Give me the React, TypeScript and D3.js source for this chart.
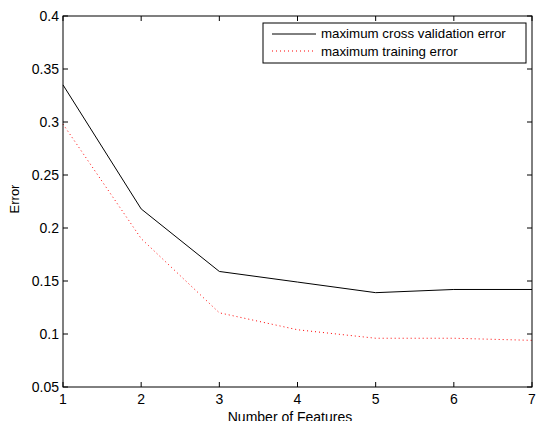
import React from "react";
import * as d3 from "d3";

const features = [1, 2, 3, 4, 5, 6, 7];
const crossValError = [0.335, 0.218, 0.159, 0.149, 0.139, 0.142, 0.142];
const trainingError = [0.298, 0.19, 0.12, 0.104, 0.096, 0.096, 0.094];
const xTicks = [1, 2, 3, 4, 5, 6, 7];
const yTicks = [0.05, 0.1, 0.15, 0.2, 0.25, 0.3, 0.35, 0.4];
const seriesNames = ["maximum cross validation error", "maximum training error"];

export default function App() {
  const W = 540, H = 421;
  const L = 63, R = 532, T = 16, B = 387;
  const x = d3.scaleLinear().domain([1, 7]).range([L, R]);
  const y = d3.scaleLinear().domain([0.05, 0.4]).range([B, T]);
  const line = d3.line<number>().x((_, i) => x(features[i])).y((d) => y(d));
  const font = "'Liberation Sans', Arial, Helvetica, sans-serif";
  const tk = 5;
  return (
    <svg width={W} height={H} style={{ position: "absolute", left: 0, top: 0, background: "#fff" }} fontFamily={font}>
      <rect x={0} y={0} width={W} height={H} fill="#fff" />
      <path d={line(crossValError) || ""} fill="none" stroke="#000" strokeWidth={1} />
      <path d={line(trainingError) || ""} fill="none" stroke="#ff0000" strokeWidth={1} strokeDasharray="1,3" />
      <rect x={L} y={T} width={R - L} height={B - T} fill="none" stroke="#000" strokeWidth={1} />
      {xTicks.map((t) => (
        <g key={"x" + t}>
          <line x1={x(t)} x2={x(t)} y1={B} y2={B - tk} stroke="#000" />
          <line x1={x(t)} x2={x(t)} y1={T} y2={T + tk} stroke="#000" />
          <text x={x(t)} y={B + 17} fontSize={14} textAnchor="middle">{t}</text>
        </g>
      ))}
      {yTicks.map((t) => (
        <g key={"y" + t}>
          <line x1={L} x2={L + tk} y1={y(t)} y2={y(t)} stroke="#000" />
          <line x1={R} x2={R - tk} y1={y(t)} y2={y(t)} stroke="#000" />
          <text x={L - 4} y={y(t) + 5} fontSize={14} textAnchor="end">{d3.format("")(t)}</text>
        </g>
      ))}
      <text x={290} y={422} fontSize={14} textAnchor="middle">Number of Features</text>
      <text transform={`translate(19,199) rotate(-90)`} fontSize={13} textAnchor="middle">Error</text>
      <g>
        <rect x={263} y={23} width={263} height={40} fill="#fff" stroke="#000" strokeWidth={1} />
        <line x1={272} x2={316} y1={34} y2={34} stroke="#000" />
        <line x1={272} x2={316} y1={51} y2={51} stroke="#ff0000" strokeDasharray="1,3" />
        <text x={321} y={38} fontSize={13.3}>{seriesNames[0]}</text>
        <text x={321} y={55.5} fontSize={13.3}>{seriesNames[1]}</text>
      </g>
    </svg>
  );
}
